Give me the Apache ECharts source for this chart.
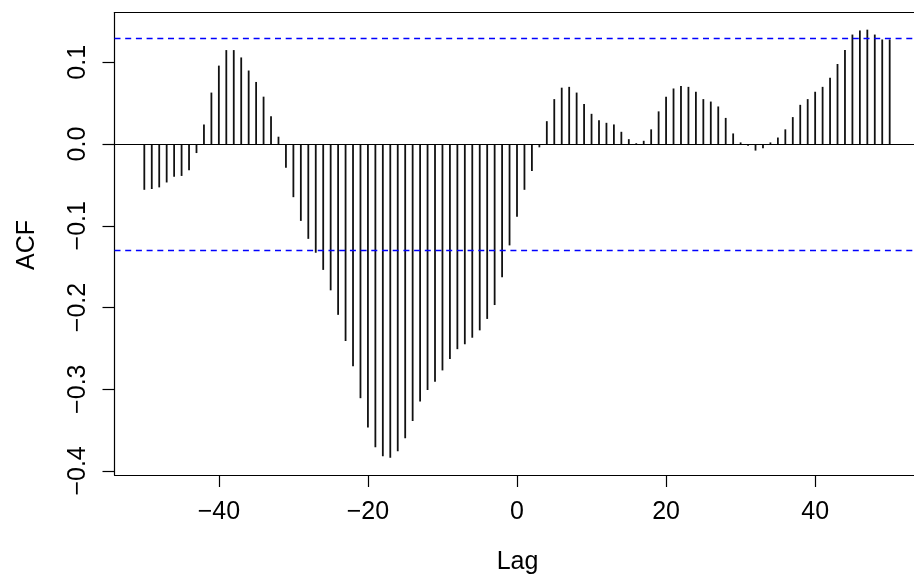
<!DOCTYPE html>
<html>
<head>
<meta charset="utf-8">
<script src="https://cdn.jsdelivr.net/npm/echarts@6/dist/echarts.min.js"></script>
<style>
html,body{margin:0;padding:0;background:#fff;}
#chart{width:914px;height:583px;}
</style>
</head>
<body>
<div id="chart"></div>
<script>
const lags = [-50,-49,-48,-47,-46,-45,-44,-43,-42,-41,-40,-39,-38,-37,-36,-35,-34,-33,-32,-31,
-30,-29,-28,-27,-26,-25,-24,-23,-22,-21,-20,-19,-18,-17,-16,-15,-14,-13,-12,-11,
-10,-9,-8,-7,-6,-5,-4,-3,-2,-1,0,1,2,3,4,5,6,7,8,9,
10,11,12,13,14,15,16,17,18,19,20,21,22,23,24,25,26,27,28,29,
30,31,32,33,34,35,36,37,38,39,40,41,42,43,44,45,46,47,48,49,50];
const acf = [-0.056,-0.055,-0.053,-0.047,-0.040,-0.039,-0.032,-0.011,0.024,0.063,
0.096,0.115,0.115,0.106,0.090,0.076,0.058,0.034,0.009,-0.029,
-0.065,-0.094,-0.116,-0.133,-0.154,-0.179,-0.209,-0.241,-0.272,-0.311,
-0.347,-0.371,-0.382,-0.384,-0.376,-0.360,-0.339,-0.315,-0.301,-0.291,
-0.277,-0.263,-0.251,-0.245,-0.237,-0.228,-0.214,-0.197,-0.163,-0.124,
-0.089,-0.056,-0.033,-0.004,0.028,0.055,0.069,0.070,0.063,0.049,
0.037,0.029,0.026,0.024,0.015,0.006,0.001,0.004,0.018,0.040,
0.058,0.068,0.071,0.070,0.064,0.055,0.052,0.046,0.032,0.013,
0.002,-0.002,-0.008,-0.005,0.002,0.008,0.018,0.033,0.048,0.055,
0.064,0.070,0.081,0.098,0.115,0.134,0.139,0.140,0.134,0.128,0.128];
const ciLevel = 0.128;
const xTicks = [-40,-20,0,20,40];
const yTicks = [-0.4,-0.3,-0.2,-0.1,0.0,0.1];
const xTitle = 'Lag';
const yTitle = 'ACF';

const FONT = '"Liberation Sans", Arial, Helvetica, sans-serif';
const fmt = v => String(v).replace('-', '\u2212');
const chart = echarts.init(document.getElementById('chart'), null, {renderer:'canvas'});
const lineSt = {color:'#000', width:1.2};
chart.setOption({
  animation:false,
  backgroundColor:'#fff',
  grid:{left:114.5, top:12.5, width:805, height:462.5, show:false, outerBoundsMode:'none', containLabel:false},
  xAxis:[{
    type:'value', min:-54, max:54, position:'bottom',
    axisLine:{show:true, onZero:false, lineStyle:lineSt},
    splitLine:{show:false},
    axisTick:{show:true, customValues:xTicks, length:12, lineStyle:lineSt},
    axisLabel:{show:true, customValues:xTicks, formatter:v=>fmt(v), fontSize:25, fontFamily:FONT, color:'#000', margin:25}
  },{
    type:'value', min:-54, max:54, position:'top',
    axisLine:{show:true, onZero:false, lineStyle:lineSt},
    splitLine:{show:false}, axisTick:{show:false}, axisLabel:{show:false}
  }],
  yAxis:{
    type:'value', min:-0.405, max:0.161, position:'left',
    axisLine:{show:true, onZero:false, lineStyle:lineSt},
    splitLine:{show:false},
    axisTick:{show:true, customValues:yTicks, length:12, lineStyle:lineSt},
    axisLabel:{show:true, customValues:yTicks, rotate:90, formatter:v=>fmt(v.toFixed(1)), fontSize:25, fontFamily:FONT, color:'#000', margin:24}
  },
  graphic:[
    {type:'text', x:517.5, y:562, style:{text:xTitle, fontSize:25, fontFamily:FONT, fill:'#000', align:'center', verticalAlign:'middle'}},
    {type:'text', x:27, y:245, rotation:Math.PI/2, style:{text:yTitle, fontSize:25, fontFamily:FONT, fill:'#000', align:'center', verticalAlign:'middle'}}
  ],
  series:[{
    type:'bar',
    xAxisIndex:0, yAxisIndex:0,
    data:lags.map((l,i)=>[l, acf[i]]),
    barWidth:1.8,
    itemStyle:{color:'#111'},
    silent:true,
    markLine:{
      silent:true, symbol:'none', label:{show:false},
      data:[
        {yAxis:0, lineStyle:{color:'#000', type:'solid', width:1.2}},
        {yAxis:ciLevel, lineStyle:{color:'#0000ff', type:[6,4.7], width:1.3}},
        {yAxis:-ciLevel, lineStyle:{color:'#0000ff', type:[6,4.7], width:1.3}}
      ]
    }
  }]
});
</script>
</body>
</html>
